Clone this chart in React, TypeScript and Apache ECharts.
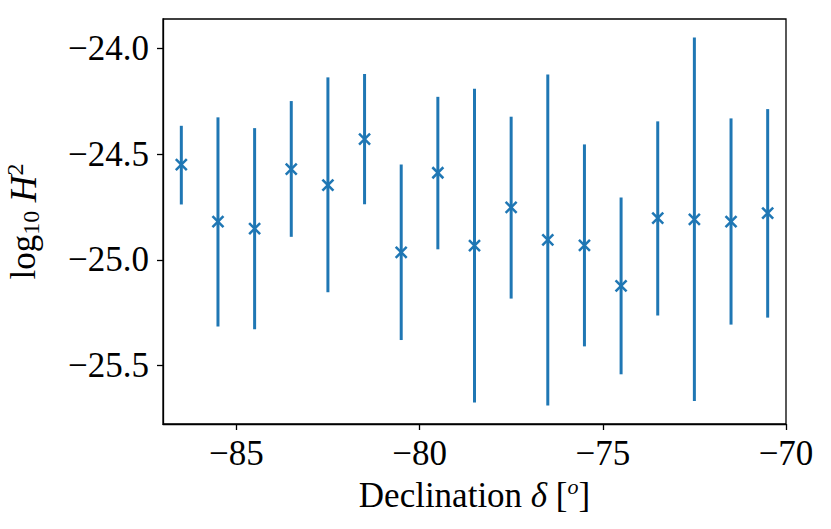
import React, { useEffect, useRef } from "react";
import * as echarts from "echarts";

const declination = [-86.5, -85.5, -84.5, -83.5, -82.5, -81.5, -80.5, -79.5, -78.5, -77.5, -76.5, -75.5, -74.5, -73.5, -72.5, -71.5, -70.5];
const logH2 = [-24.55, -24.819, -24.852, -24.571, -24.647, -24.429, -24.964, -24.588, -24.933, -24.752, -24.905, -24.931, -25.123, -24.803, -24.808, -24.819, -24.779];
const lower = [-24.738, -25.315, -25.328, -24.891, -25.153, -24.737, -25.379, -24.95, -25.674, -25.183, -25.688, -25.409, -25.541, -25.263, -25.667, -25.306, -25.273];
const upper = [-24.366, -24.326, -24.377, -24.249, -24.137, -24.121, -24.549, -24.229, -24.191, -24.323, -24.123, -24.454, -24.705, -24.345, -23.948, -24.331, -24.287];

const xTicks = [-85, -80, -75, -70];
const yTicks = [-25.5, -25.0, -24.5, -24.0];

const COLOR = "#1f77b4";
const FONT = "'Liberation Serif', 'DejaVu Serif', serif";

export default function App() {
  const ref = useRef<HTMLDivElement>(null);
  useEffect(() => {
    if (!ref.current) return;
    const chart = echarts.init(ref.current, null, { renderer: "svg" });
    const data = declination.map((d, i) => [d, logH2[i], lower[i], upper[i]]);
    const minus = (v: number, digits: number) => {
      const s = Math.abs(v).toFixed(digits);
      return (v < 0 ? "\u2212" : "") + s;
    };
    chart.setOption({
      animation: false,
      backgroundColor: "#fff",
      grid: {
        left: 163,
        right: 45,
        top: 19,
        bottom: 105,
        containLabel: false,
        outerBoundsMode: "none",
        show: true,
        borderColor: "#000",
        borderWidth: 1.3,
        backgroundColor: "transparent",
      },
      xAxis: {
        type: "value",
        min: -87,
        max: -70,
        splitLine: { show: false },
        axisLine: { show: true, onZero: false, lineStyle: { color: "#000", width: 1.3 } },
        axisTick: { show: true, length: 6, customValues: xTicks, lineStyle: { color: "#000", width: 1.3 } },
        axisLabel: {
          customValues: xTicks,
          formatter: (v: number) => minus(v, 0),
          fontFamily: FONT,
          fontSize: 35,
          color: "#000",
          margin: 12,
        },
        name: "{a|Declination }{i|\u03b4}{a| [}{s|o}{a|]}",
        nameLocation: "middle",
        nameGap: 48,
        nameTextStyle: {
          rich: {
            a: { fontFamily: FONT, fontSize: 35, color: "#000", lineHeight: 40 },
            i: { fontFamily: FONT, fontSize: 35, fontStyle: "italic", color: "#000", lineHeight: 40 },
            s: { fontFamily: FONT, fontSize: 22, fontStyle: "italic", color: "#000", lineHeight: 22, verticalAlign: "top" },
          },
        },
      },
      yAxis: {
        type: "value",
        min: -25.776,
        max: -23.861,
        splitLine: { show: false },
        axisLine: { show: true, onZero: false, lineStyle: { color: "#000", width: 1.3 } },
        axisTick: { show: true, length: 6, customValues: yTicks, lineStyle: { color: "#000", width: 1.3 } },
        axisLabel: {
          customValues: yTicks,
          formatter: (v: number) => minus(v, 1),
          fontFamily: FONT,
          fontSize: 35,
          color: "#000",
          margin: 14,
        },
        name: "{r|log}{sub|10}{r| }{i|H}{sup|2}",
        nameLocation: "middle",
        nameGap: 120,
        nameTextStyle: {
          rich: {
            r: { fontFamily: FONT, fontSize: 35, color: "#000", lineHeight: 40 },
            i: { fontFamily: FONT, fontSize: 37, fontStyle: "italic", color: "#000", lineHeight: 40 },
            sub: { fontFamily: FONT, fontSize: 24, color: "#000", lineHeight: 18, verticalAlign: "bottom" },
            sup: { fontFamily: FONT, fontSize: 24, color: "#000", lineHeight: 22, verticalAlign: "top" },
          },
        },
      },
      series: [
        {
          type: "custom",
          data,
          encode: { x: 0, y: [1, 2, 3] },
          renderItem: (_params: any, api: any) => {
            const x = api.value(0);
            const c = api.value(1);
            const lo = api.value(2);
            const hi = api.value(3);
            const p = api.coord([x, c]);
            const pl = api.coord([x, lo]);
            const ph = api.coord([x, hi]);
            const s = 5.5;
            return {
              type: "group",
              children: [
                { type: "line", shape: { x1: pl[0], y1: pl[1], x2: ph[0], y2: ph[1] }, style: { stroke: COLOR, lineWidth: 3 } },
                { type: "line", shape: { x1: p[0] - s, y1: p[1] - s, x2: p[0] + s, y2: p[1] + s }, style: { stroke: COLOR, lineWidth: 2.5 } },
                { type: "line", shape: { x1: p[0] - s, y1: p[1] + s, x2: p[0] + s, y2: p[1] - s }, style: { stroke: COLOR, lineWidth: 2.5 } },
              ],
            };
          },
        },
      ],
    });
    return () => chart.dispose();
  }, []);
  return <div ref={ref} style={{ position: "fixed", left: 0, top: 0, width: 831, height: 529 }} />;
}
